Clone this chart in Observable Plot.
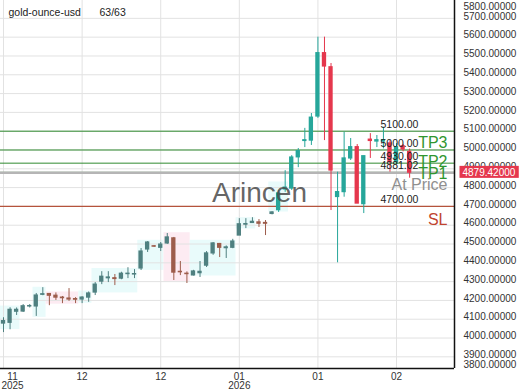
<!DOCTYPE html>
<html><head><meta charset="utf-8">
<script src="https://cdn.jsdelivr.net/npm/d3@7"></script>
<script src="https://cdn.jsdelivr.net/npm/@observablehq/plot@0.6"></script>
<style>
html,body{margin:0;padding:0;background:#fff;}
#chart{width:520px;height:390px;}
</style></head><body><div id="chart"></div>
<script>
// ---- data ----
const symbolName = "gold-ounce-usd";
const counterText = "63/63";
const watermark = "Arincen";
const opens  = [4077,4081,4140,4141,4168,4168,4230,4234,4225,4215,4210,4207,4205,4215,4242,4300,4318,4318,4316,4340,4338,4370,4471,4488,4480,4503,4530,4352,4342,4333,4345,4385,4450,4500,4478,4480,4545,4603,4612,4615,4612,4660,4680,4790,4795,4961,5048,5050,5178,5515,5440,4750,4776,4955,5015,4712,5055,5045,5045,5035,4935,5020,4990];
const highs  = [4108,4161,4160,4178,4178,4237,4268,4237,4240,4221,4263,4215,4220,4245,4295,4353,4353,4338,4350,4374,4364,4476,4513,4492,4508,4556,4535,4407,4352,4360,4407,4460,4508,4503,4490,4525,4635,4635,4640,4630,4625,4672,4784,4890,4970,5008,5115,5194,5600,5600,5460,4882,5095,5061,5029,4967,5087,5077,5121,5050,5034,5030,5005];
const lows   = [4029,4044,4120,4136,4160,4115,4225,4172,4200,4183,4195,4183,4183,4190,4226,4284,4295,4279,4310,4316,4316,4359,4455,4482,4460,4498,4306,4332,4290,4330,4322,4375,4440,4428,4423,4475,4545,4582,4610,4588,4545,4655,4668,4775,4785,4906,5013,5024,5168,5050,4678,4400,4749,4944,4715,4662,4955,5013,5006,4882,4923,4990,4850];
const closes = [4090,4150,4150,4169,4170,4226,4233,4225,4215,4212,4205,4204,4215,4237,4284,4326,4322,4314,4342,4342,4340,4460,4508,4486,4497,4535,4348,4350,4340,4354,4352,4450,4503,4480,4482,4513,4605,4606,4618,4608,4608,4668,4769,4800,4960,4994,5052,5172,5515,5444,4891,4776,4955,5015,4715,4967,5048,5052,5052,4935,5015,5003,4879.42];
const firstVividIndex = 42;

const xTickIndex  = [0, 12, 24, 36, 48, 60];
const xTickLabels = ["11\n2025", "12", "12", "01\n2026", "01", "02"];
const yTicks = [3900,4000,4100,4200,4300,4400,4500,4600,4700,4800,4900,5000,5100,5200,5300,5400,5500,5600,5700];
const yTopLabel = "5800.00000";
const yBottomLabel = "3800.00000";

const greenLevels = [5100, 5000, 4930, 4881.02];
const slLevel = 4700;
const levelValues = [5100, 5000, 4930, 4881.02, 4700];
const levelLabels = ["5100.00", "5000.00", "4930.00", "4881.02", "4700.00"];
const currentPrice = 4879.42;

// faint background highlight zones
const zoneStart = [-0.5, 4.5, 6.5, 11.5, 13.5, 20.5, 24.5, 28.5, 35.5, 40.5];
const zoneEnd   = [ 2.5, 6.5, 11.5, 13.5, 20.5, 24.5, 28.5, 35.5, 38.5, 43.5];
const zoneLow   = [4045, 4110, 4180, 4185, 4240, 4360, 4300, 4330, 4580, 4670];
const zoneHigh  = [4170, 4270, 4245, 4250, 4370, 4520, 4560, 4520, 4640, 4830];
const zoneKind  = ["up","up","down","up","up","up","down","up","up","up"];

// ---- build tables ----
const candles = opens.map((o, i) => ({i, o, h: highs[i], l: lows[i], c: closes[i]}));
const zones = zoneStart.map((s, k) => ({s, e: zoneEnd[k], lo: zoneLow[k], hi: zoneHigh[k], kind: zoneKind[k]}));
const xTicks = xTickIndex.map((i, k) => ({i, label: xTickLabels[k]}));
const levels = levelValues.map((v, k) => ({v, label: levelLabels[k]}));

const xDomain = [-0.46, 68.85];
const yDomain = [3838, 5795];

function candleColor(d) {
  const up = d.c >= d.o;
  if (d.i >= firstVividIndex) return up ? "#26a69a" : "#e5374d";
  return up ? "#4f8080" : "#9d5c4b";
}

const font = "'Liberation Sans', Arial, sans-serif";

const chart = Plot.plot({
  width: 520,
  height: 390,
  marginLeft: 0,
  marginRight: 66,
  marginTop: 0,
  marginBottom: 22,
  style: {fontFamily: font, background: "#fff", overflow: "visible"},
  x: {domain: xDomain, axis: null},
  y: {domain: yDomain, axis: null},
  marks: [
    Plot.rect(zones, {x1: "s", x2: "e", y1: "lo", y2: "hi", fill: d => d.kind === "up" ? "#e9fbfb" : "#fdebf2"}),
    Plot.gridY(yTicks, {stroke: "#e2e2e2", strokeOpacity: 1}),
    Plot.gridX(xTickIndex, {stroke: "#e2e2e2", strokeOpacity: 1}),
    Plot.ruleY(greenLevels, {stroke: "#2f8a2f", strokeWidth: 1}),
    Plot.ruleY([currentPrice], {stroke: "#b5b5b5", strokeWidth: 2.5}),
    Plot.ruleY([slLevel], {stroke: "#b5533c", strokeWidth: 1.2}),
    Plot.ruleX(candles, {x: "i", y1: "l", y2: "h", stroke: candleColor, strokeWidth: 1}),
    Plot.rect(candles, {x1: d => d.i - 0.33, x2: d => d.i + 0.33, y1: "o", y2: "c", fill: candleColor, insetTop: -0.6, insetBottom: -0.6}),
    // level value labels
    Plot.text(levels, {y: "v", text: "label", frameAnchor: "right", dx: -74, dy: -6.5, textAnchor: "start", fontSize: 10.5, fill: "#222"}),
    // TP / SL tags
    Plot.text([5000], {y: d => d, text: ["TP3"], frameAnchor: "right", dx: -7, dy: -7, textAnchor: "end", fontSize: 16, fill: "#2f962f"}),
    Plot.text([4930], {y: d => d, text: ["TP2"], frameAnchor: "right", dx: -7, dy: -1, textAnchor: "end", fontSize: 16, fill: "#2f962f"}),
    Plot.text([4881.02], {y: d => d, text: ["TP1"], frameAnchor: "right", dx: -7, dy: 2, textAnchor: "end", fontSize: 16, fill: "#2f962f"}),
    Plot.text([currentPrice], {y: d => d, text: ["At Price"], frameAnchor: "right", dx: -7, dy: 12, textAnchor: "end", fontSize: 16, fill: "#8f8f8f"}),
    Plot.text([slLevel], {y: d => d, text: ["SL"], frameAnchor: "right", dx: -7, dy: 13, textAnchor: "end", fontSize: 16, fill: "#c0432f"}),
    // watermark
    Plot.text([watermark], {text: d => d, frameAnchor: "top-left", dx: 259, dy: 193, lineAnchor: "middle", textAnchor: "middle", fontSize: 28, fill: "#4a4a4a", fillOpacity: 0.85}),
    // frame lines
    Plot.ruleX([xDomain[1]], {stroke: "#111", strokeWidth: 1.5}),
    Plot.ruleY([yDomain[0]], {stroke: "#111", strokeWidth: 1.5}),
    // right axis labels
    Plot.axisY(yTicks, {anchor: "right", tickSize: 0, tickPadding: 9, tickFormat: d => d.toFixed(5), fontSize: 10, dy: -2, fill: "#333", textAnchor: "start"}),
    Plot.text([yTopLabel], {text: d => d, frameAnchor: "top-right", dx: 9, dy: 6, lineAnchor: "middle", textAnchor: "start", fontSize: 10, fill: "#333"}),
    Plot.text([yBottomLabel], {text: d => d, frameAnchor: "bottom-right", dx: 9, dy: -4, lineAnchor: "middle", textAnchor: "start", fontSize: 10, fill: "#333"}),
    // bottom axis labels
    Plot.text(xTicks.slice(0, 1), {x: "i", text: "label", frameAnchor: "bottom", dx: 9, dy: 5, lineAnchor: "top", lineHeight: 0.9, fontSize: 10, fill: "#333"}),
    Plot.text(xTicks.slice(1), {x: "i", text: "label", frameAnchor: "bottom", dy: 5, lineAnchor: "top", lineHeight: 0.9, fontSize: 10, fill: "#333"}),
    // header
    Plot.text([symbolName], {text: d => d, frameAnchor: "top-left", dx: 8, dy: 12.5, lineAnchor: "middle", textAnchor: "start", fontSize: 10.5, fill: "#222"}),
    Plot.text([counterText], {text: d => d, frameAnchor: "top-left", dx: 99, dy: 12.5, lineAnchor: "middle", textAnchor: "start", fontSize: 10.5, fill: "#222"}),
    // current price tag text
    Plot.text([currentPrice], {y: d => d, text: d => d.toFixed(5), frameAnchor: "right", dx: 8, textAnchor: "start", fontSize: 10, fill: "#fff"})
  ]
});

document.getElementById("chart").appendChild(chart);

// red box behind the current price tag
const tagText = d3.select(chart).selectAll("text").filter(function() { return this.textContent === currentPrice.toFixed(5); });
tagText.each(function() {
  const bb = this.getBBox();
  const tr = this.getAttribute("transform");
  d3.select(this.parentNode).insert("rect", () => this)
    .attr("x", bb.x - 3).attr("y", bb.y - 1)
    .attr("width", bb.width + 6).attr("height", bb.height + 1)
    .attr("transform", tr)
    .attr("fill", "#e5374d");
});
</script></body></html>
